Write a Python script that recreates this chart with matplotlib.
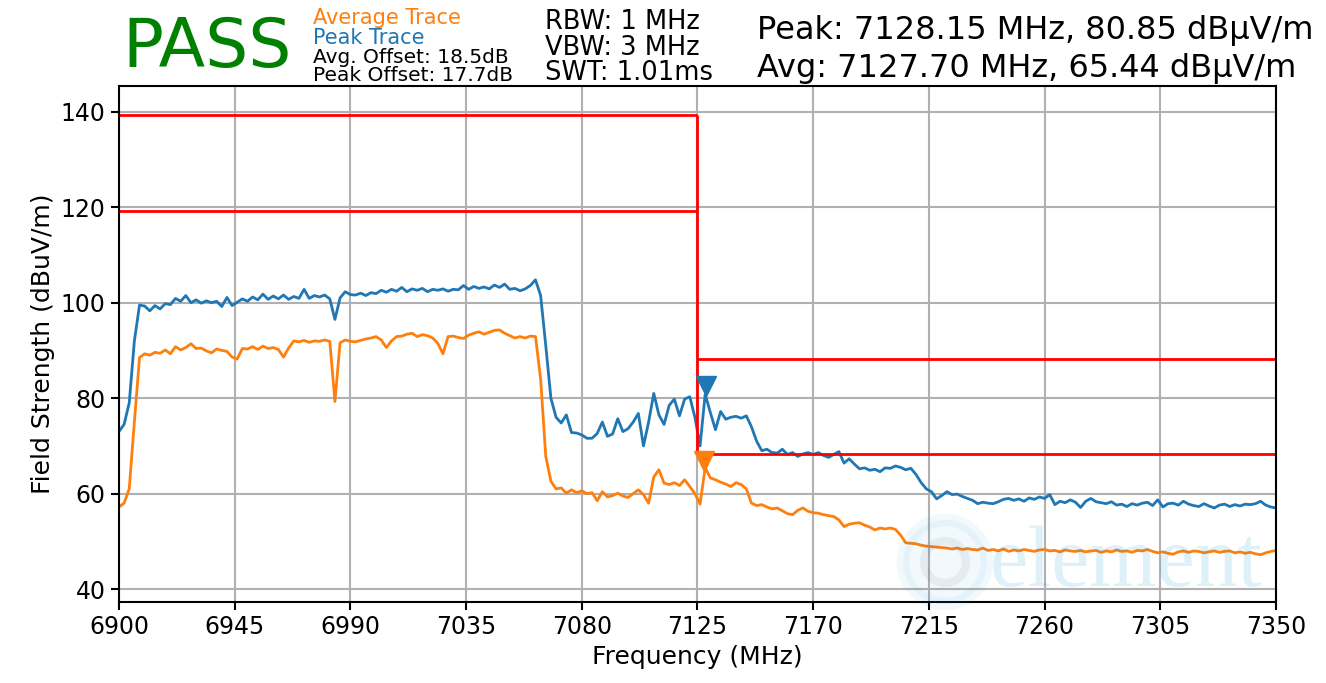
import numpy as np
import matplotlib
matplotlib.use("Agg")
import matplotlib.pyplot as plt
from matplotlib.patches import Ellipse

# Sweep data, 2 MHz steps from 6900 to 7350 MHz
freq_start = 6900
freq_step = 2

peak_trace = [
    73.0, 74.5, 79.0, 92.0, 99.5, 99.3, 98.3, 99.4, 98.7, 99.8,
    99.6, 100.9, 100.3, 101.5, 100.0, 100.6, 99.9, 100.4, 100.0, 100.3,
    99.2, 101.1, 99.4, 100.1, 100.8, 100.3, 101.2, 100.6, 101.8, 100.7,
    101.4, 100.8, 101.6, 100.7, 101.3, 100.9, 102.8, 100.9, 101.5, 101.2,
    101.6, 100.8, 96.5, 101.0, 102.3, 101.7, 101.6, 102.0, 101.5, 102.1,
    101.9, 102.6, 102.2, 102.8, 102.4, 103.2, 102.3, 102.9, 102.6, 103.0,
    102.3, 102.8, 102.6, 102.9, 102.4, 102.8, 102.7, 103.6, 102.8, 103.4,
    103.0, 103.3, 102.9, 103.7, 103.2, 103.9, 102.8, 103.0, 102.5, 102.9,
    103.6, 104.8, 101.5, 91.0, 80.0, 76.0, 74.8, 76.5, 72.8, 72.7,
    72.3, 71.6, 71.6, 72.6, 75.0, 72.0, 72.5, 75.7, 73.0, 73.6,
    75.0, 76.8, 70.0, 75.0, 81.0, 76.5, 74.5, 78.5, 79.8, 76.3,
    79.8, 80.3, 76.0, 70.0, 80.85, 77.0, 73.4, 77.2, 75.6, 76.0,
    76.2, 75.8, 76.3, 74.0, 71.0, 69.0, 69.3, 68.6, 68.5, 69.3,
    68.2, 68.6, 67.8, 68.3, 68.6, 68.2, 68.6, 68.0, 67.6, 68.2,
    68.8, 66.4, 67.3, 66.2, 65.2, 65.4, 64.9, 65.1, 64.6, 65.4,
    65.3, 65.8, 65.5, 65.0, 65.3, 64.0, 62.3, 61.0, 60.4, 58.9,
    59.6, 60.4, 59.8, 59.9, 59.4, 59.0, 58.6, 57.9, 58.2, 58.0,
    57.9, 58.3, 58.8, 59.0, 58.6, 58.9, 58.4, 59.1, 58.8, 59.3,
    59.0, 59.8, 57.7, 58.4, 58.1, 58.7, 58.2, 57.1, 58.4, 59.0,
    58.3, 58.1, 57.9, 58.3, 57.6, 57.8, 57.3, 57.9, 57.6, 58.0,
    58.2, 57.5, 58.7, 57.2, 57.9, 58.0, 57.6, 58.4, 57.8, 57.5,
    57.3, 57.9, 57.4, 57.0, 57.6, 57.8, 57.3, 57.7, 57.4, 57.8,
    57.7, 57.9, 58.4, 57.6, 57.2, 57.0,
]

avg_trace = [
    57.2, 58.0, 61.0, 75.0, 88.5, 89.3, 89.0, 89.6, 89.4, 90.1,
    89.3, 90.8, 90.1, 90.6, 91.4, 90.4, 90.5, 89.9, 89.5, 90.3,
    90.0, 89.8, 88.6, 88.2, 90.4, 90.3, 90.8, 90.2, 90.9, 90.4,
    90.6, 90.2, 88.6, 90.5, 92.0, 91.8, 92.1, 91.7, 92.0, 91.9,
    92.2, 91.9, 79.3, 91.6, 92.2, 91.9, 91.8, 92.1, 92.4, 92.6,
    92.9, 92.2, 90.6, 92.0, 92.9, 93.0, 93.4, 93.6, 92.9, 93.3,
    93.1, 92.6, 91.5, 89.3, 92.9, 93.0, 92.7, 92.5, 93.2, 93.6,
    93.9, 93.4, 93.8, 94.2, 94.3, 93.6, 93.1, 92.6, 92.9, 92.6,
    93.0, 92.9, 84.0, 67.8, 62.6, 61.0, 61.2, 60.1, 60.8, 60.2,
    60.6, 60.0, 60.2, 58.5, 60.4, 59.3, 59.6, 60.1, 59.5, 59.2,
    60.0, 60.8, 59.8, 58.0, 63.5, 65.0, 62.2, 61.9, 62.3, 61.7,
    62.9, 61.5, 60.0, 57.8, 65.44, 63.3, 62.9, 62.4, 62.0, 61.5,
    62.3, 61.9, 61.0, 58.0, 57.5, 57.7, 57.2, 56.8, 57.0, 56.4,
    55.8, 55.6, 56.5, 57.0, 56.3, 56.0, 55.9, 55.6, 55.4, 55.2,
    54.5, 53.1, 53.6, 53.8, 53.9, 53.4, 53.0, 52.4, 52.8, 52.6,
    52.8, 52.5, 51.3, 49.7, 49.6, 49.5, 49.2, 49.0, 48.9, 48.8,
    48.7, 48.6, 48.4, 48.6, 48.3, 48.5, 48.3, 48.2, 48.6, 48.1,
    48.3, 48.0, 48.4, 47.9, 48.2, 48.0, 48.3, 48.1, 47.9, 48.2,
    48.3, 48.0, 48.1, 47.8, 48.2, 48.0, 47.9, 48.1, 47.8, 48.0,
    48.1, 47.7, 48.0, 47.8, 48.2, 47.9, 48.0, 47.7, 48.1, 48.0,
    48.3, 47.9, 47.6, 47.8, 47.5, 47.3, 47.8, 48.0, 47.7, 48.0,
    47.9, 47.6, 47.8, 48.0, 47.7, 47.9, 48.0, 47.6, 47.8, 47.5,
    47.7, 47.4, 47.2, 47.6, 47.9, 48.1,
]

# Limit lines (MHz, dBuV/m)
limit_split = 7125
limit_low_band = [139.3, 119.3]
limit_high_band = [88.2, 68.2]

peak_marker = (7128.15, 80.85)
avg_marker = (7127.70, 65.44)

x_ticks = [6900, 6945, 6990, 7035, 7080, 7125, 7170, 7215, 7260, 7305, 7350]
y_ticks = [40, 60, 80, 100, 120, 140]

freqs = freq_start + freq_step * np.arange(len(peak_trace))

fig = plt.figure(figsize=(13.26, 6.83), dpi=100)
ax = fig.add_axes([0.0897, 0.1186, 0.8726, 0.7555])

ax.grid(True, color="#b0b0b0", linewidth=1.5)
ax.set_axisbelow(True)

ax.plot(freqs, avg_trace, color="#ff7f0e", linewidth=2)
ax.plot(freqs, peak_trace, color="#1f77b4", linewidth=2)

# limits
ax.hlines(limit_low_band, freq_start, limit_split, color="red", linewidth=2)
ax.hlines(limit_high_band, limit_split, freqs[-1], color="red", linewidth=2)
ax.vlines(limit_split, min(limit_high_band), max(limit_low_band), color="red", linewidth=2)

# markers sit just above the trace maxima
ax.plot(peak_marker[0], peak_marker[1] + 1.6, marker="v", color="#1f77b4", markersize=15)
ax.plot(avg_marker[0], avg_marker[1] + 1.5, marker="v", color="#ff7f0e", markersize=15)

ax.set_xlim(6900, 7350)
ax.set_ylim(37.3, 145.4)
ax.set_xticks(x_ticks)
ax.set_yticks(y_ticks)
ax.tick_params(labelsize=17, width=1.5, length=6)
for s in ax.spines.values():
    s.set_linewidth(1.5)
ax.set_xlabel("Frequency (MHz)", fontsize=18)
ax.set_ylabel("Field Strength (dBuV/m)", fontsize=18)

# header
fig.text(0.092, 0.902, "PASS", color="green", fontsize=49)
fig.text(0.236, 0.965, "Average Trace", color="#ff7f0e", fontsize=15)
fig.text(0.236, 0.935, "Peak Trace", color="#1f77b4", fontsize=15)
fig.text(0.236, 0.908, "Avg. Offset: 18.5dB", color="black", fontsize=14.5)
fig.text(0.236, 0.881, "Peak Offset: 17.7dB", color="black", fontsize=14.5)
fig.text(0.411, 0.958, "RBW: 1 MHz", fontsize=18.5)
fig.text(0.411, 0.920, "VBW: 3 MHz", fontsize=18.5)
fig.text(0.411, 0.883, "SWT: 1.01ms", fontsize=18.5)
fig.text(0.571, 0.943, "Peak: 7128.15 MHz, 80.85 dBµV/m", fontsize=23)
fig.text(0.571, 0.887, "Avg: 7127.70 MHz, 65.44 dBµV/m", fontsize=23)

# faint watermark
wm = "#1a9fd6"
fig.patches.append(Ellipse((945 / 1326, 1 - 562 / 683), 84 / 1326, 84 / 683,
                           transform=fig.transFigure, facecolor=wm, alpha=0.06,
                           edgecolor=wm, linewidth=9, zorder=5))
fig.patches.append(Ellipse((945 / 1326, 1 - 562 / 683), 42 / 1326, 42 / 683,
                           transform=fig.transFigure, facecolor="none", alpha=0.08,
                           edgecolor="#555577", linewidth=6, zorder=5))
fig.text(990 / 1326, 1 - 586 / 683, "element", color=wm, alpha=0.14, fontsize=62,
         family="Liberation Serif", zorder=6)

plt.savefig("out.png", dpi=100)
